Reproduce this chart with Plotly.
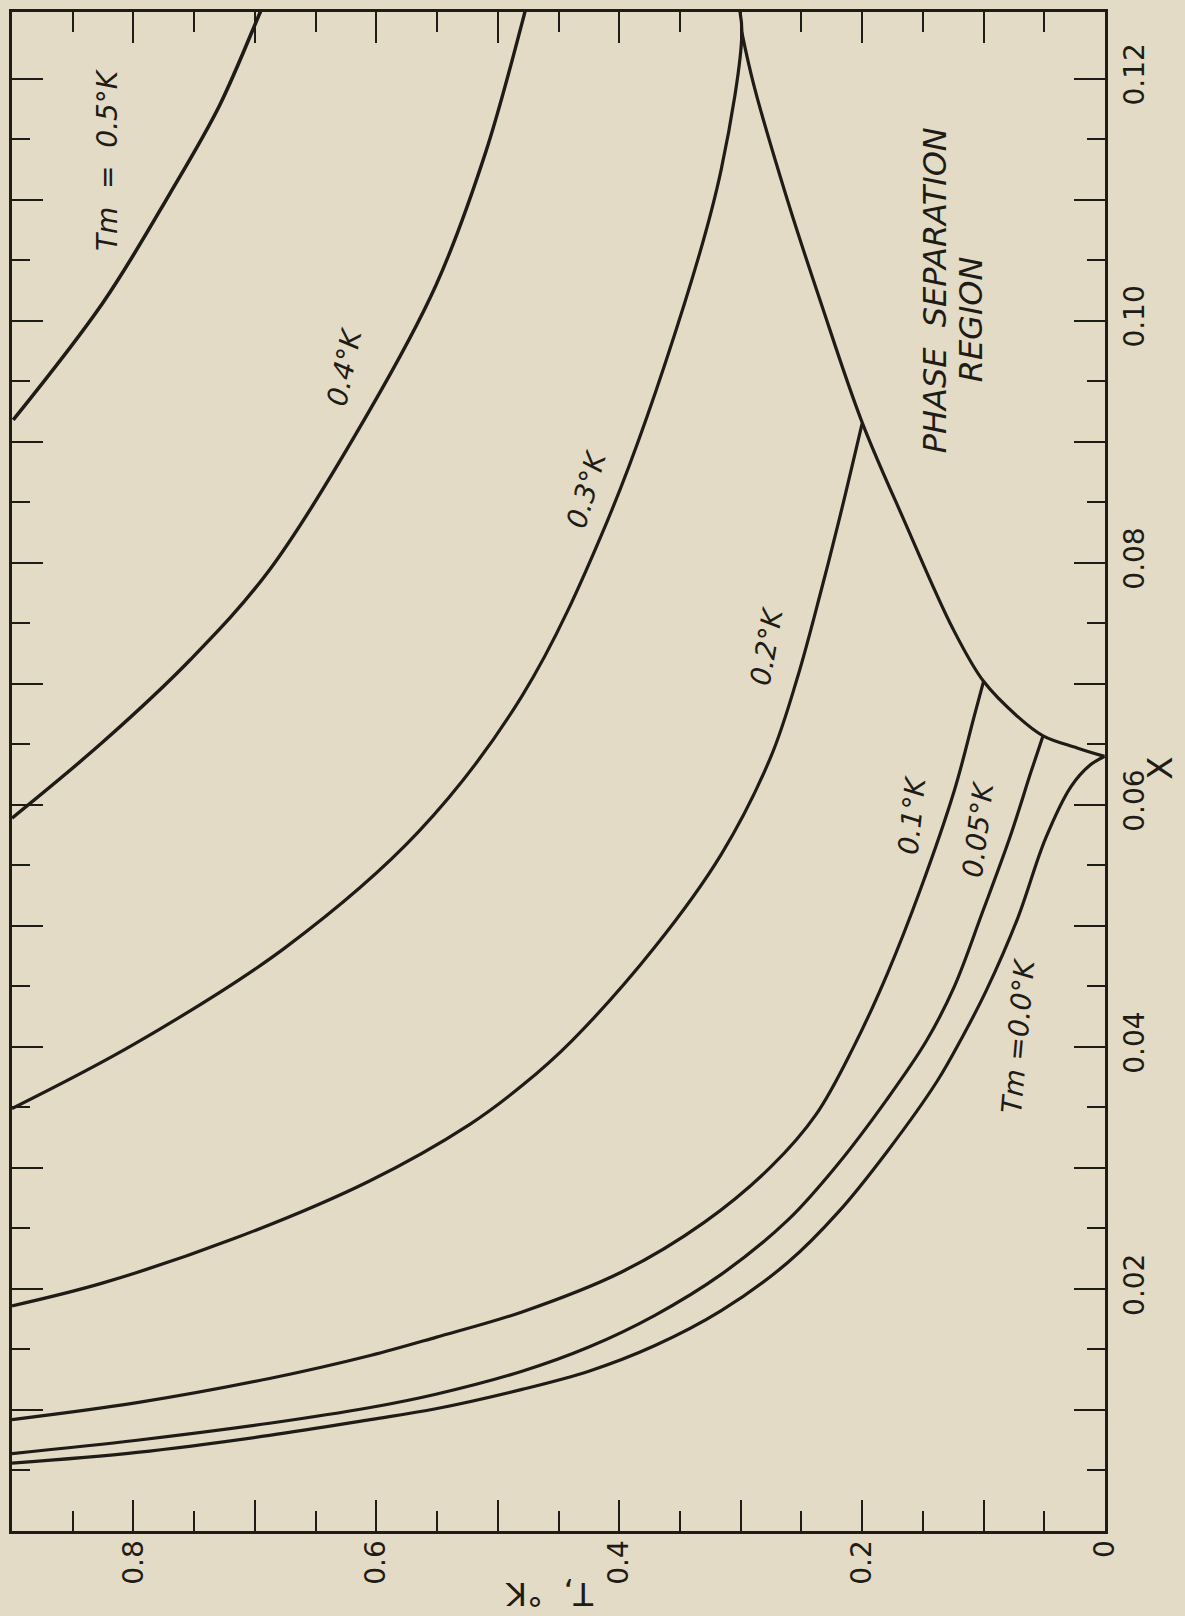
import plotly.graph_objects as go

# ---- data (T in K, X = concentration) ----
tm05_T = [0.899, 0.825, 0.770, 0.729, 0.696, 0.690]
tm05_X = [0.0918, 0.1015, 0.1105, 0.1178, 0.1254, 0.1268]

tm04_T = [0.900, 0.825, 0.753, 0.688, 0.606, 0.551, 0.510, 0.480, 0.476]
tm04_X = [0.0589, 0.0652, 0.0720, 0.0794, 0.0925, 0.1029, 0.1139, 0.1246, 0.1262]

tm03_T = [0.900, 0.798, 0.675, 0.565, 0.480, 0.410, 0.346, 0.316, 0.299, 0.302]
tm03_X = [0.0349, 0.0403, 0.0482, 0.0578, 0.0690, 0.0834, 0.1015, 0.1125, 0.1238, 0.1262]

tm02_T = [0.900, 0.825, 0.716, 0.606, 0.523, 0.480, 0.439, 0.371, 0.316, 0.275,
          0.253, 0.234, 0.220, 0.200]
tm02_X = [0.0186, 0.0205, 0.0242, 0.0289, 0.0336, 0.0368, 0.0405, 0.0482, 0.0559, 0.0640,
          0.0706, 0.0776, 0.0831, 0.0915]

tm01_T = [0.900, 0.797, 0.688, 0.605, 0.551, 0.480, 0.398, 0.330, 0.275, 0.238,
          0.207, 0.179, 0.152, 0.124, 0.108, 0.100]
tm01_X = [0.0092, 0.0106, 0.0126, 0.0145, 0.0160, 0.0181, 0.0214, 0.0255, 0.0301, 0.0344,
          0.0400, 0.0461, 0.0530, 0.0612, 0.0672, 0.0702]

tm005_T = [0.900, 0.797, 0.688, 0.605, 0.551, 0.480, 0.425, 0.371, 0.316, 0.261,
           0.220, 0.180, 0.147, 0.124, 0.101, 0.078, 0.061, 0.051]
tm005_X = [0.0064, 0.0075, 0.0089, 0.0102, 0.0113, 0.0132, 0.0152, 0.0178, 0.0212, 0.0257,
           0.0303, 0.0356, 0.0405, 0.0450, 0.0511, 0.0574, 0.0627, 0.0657]

tm00_T = [0.900, 0.797, 0.688, 0.605, 0.551, 0.480, 0.425, 0.371, 0.316, 0.261,
          0.220, 0.179, 0.138, 0.117, 0.098, 0.072, 0.049, 0.028, 0.012, 0.0004]
tm00_X = [0.0056, 0.0065, 0.0079, 0.0092, 0.0101, 0.0117, 0.0132, 0.0153, 0.0182, 0.0222,
          0.0263, 0.0314, 0.0372, 0.0409, 0.0446, 0.0506, 0.0572, 0.0615, 0.0633, 0.0640]

phase_T = [0.0004, 0.023, 0.051, 0.072, 0.100, 0.125, 0.165, 0.200, 0.234, 0.261, 0.289, 0.299]
phase_X = [0.0640, 0.0647, 0.0657, 0.0673, 0.0702, 0.0745, 0.0834, 0.0916, 0.1015, 0.1098,
           0.1194, 0.1238]

T_major = [0.0, 0.1, 0.2, 0.3, 0.4, 0.5, 0.6, 0.7, 0.8]
T_labels = ["0", "", "0.2", "", "0.4", "", "0.6", "", "0.8"]
T_minor = [0.05, 0.15, 0.25, 0.35, 0.45, 0.55, 0.65, 0.75, 0.85]

X_major = [0.0, 0.01, 0.02, 0.03, 0.04, 0.05, 0.06, 0.07, 0.08, 0.09, 0.10, 0.11, 0.12]
X_labels = ["", "", "0.02", "", "0.04", "", "0.06", "", "0.08", "", "0.10", "", "0.12"]
X_minor = [0.005, 0.015, 0.025, 0.035, 0.045, 0.055, 0.065, 0.075, 0.085, 0.095,
           0.105, 0.115]

INK = "#1f1b17"
PAPER = "#e3dbc6"
FONT = "DejaVu Sans"

# plot area lands at page x 9..1104.5 and page y 10..1531 (body margin removed)
FIG_W, FIG_H = 1185, 1616
ML, MT = 9, 10
MR, MB = 80, 85
PW = FIG_W - ML - MR
PH = FIG_H - MT - MB


def px(page_x):
    return (page_x - ML) / PW


def py(page_y):
    return 1 - (page_y - MT) / PH


curves = [
    (tm05_T, tm05_X, 3.6), (tm04_T, tm04_X, 3.4), (tm03_T, tm03_X, 3.2),
    (tm02_T, tm02_X, 3.2), (tm01_T, tm01_X, 3.2), (tm005_T, tm005_X, 3.2),
    (tm00_T, tm00_X, 3.2), (phase_T, phase_X, 3.2),
]

fig = go.Figure()
for T, X, w in curves:
    fig.add_trace(go.Scatter(
        x=T, y=X, mode="lines",
        line=dict(color=INK, width=w, shape="spline", smoothing=1.0),
        hoverinfo="skip", showlegend=False,
    ))

label_font = dict(family=FONT, size=28, color=INK, style="italic")
labels = [
    ("Tm  =  0.5°K", 0.8214, 0.1133, -90),
    ("0.4°K", 0.626, 0.0962, -78),
    ("0.3°K", 0.4265, 0.0861, -74),
    ("0.2°K", 0.2787, 0.0731, -80),
    ("0.1°K", 0.1588, 0.0592, -84),
    ("0.05°K", 0.1039, 0.0580, -83),
    ("Tm =0.0°K", 0.0710, 0.0409, -85),
]
for txt, tx, ty, ang in labels:
    fig.add_annotation(x=tx, y=ty, xref="x", yref="y", text=txt,
                       xanchor="center", yanchor="middle",
                       showarrow=False, textangle=ang, font=label_font)

region_font = dict(family=FONT, size=32, color=INK, style="italic")
fig.add_annotation(x=0.140, y=0.1025, xref="x", yref="y", text="PHASE  SEPARATION",
                   xanchor="center", yanchor="middle",
                   showarrow=False, textangle=-90, font=region_font)
fig.add_annotation(x=0.1096, y=0.1001, xref="x", yref="y", text="REGION",
                   xanchor="center", yanchor="middle",
                   showarrow=False, textangle=-90, font=region_font)

# axis titles (the whole figure is rotated by 90 degrees)
fig.add_annotation(x=px(1160), y=py(767), xref="paper", yref="paper",
                   text="X", showarrow=False, textangle=-90,
                   xanchor="center", yanchor="middle",
                   font=dict(family=FONT, size=34, color=INK))
fig.add_annotation(x=px(548), y=py(1594), xref="paper", yref="paper",
                   text="T,  °K", showarrow=False, textangle=180,
                   xanchor="center", yanchor="middle",
                   font=dict(family=FONT, size=32, color=INK))

axis_common = dict(
    showgrid=False, zeroline=False, showline=True, linecolor=INK, linewidth=3,
    mirror="allticks", ticks="inside", ticklen=31, tickwidth=2, tickcolor=INK,
    tickangle=-90, tickfont=dict(family=FONT, size=28, color=INK),
)

fig.update_xaxes(
    range=[0.9, 0.0], tickmode="array", tickvals=T_major, ticktext=T_labels,
    ticklabelstandoff=-5,
    minor=dict(tickmode="array", tickvals=T_minor, ticks="inside", ticklen=20,
               tickwidth=2, tickcolor=INK, showgrid=False),
    **axis_common,
)
fig.update_yaxes(
    range=[0.0, 0.1255], side="right", tickmode="array", tickvals=X_major,
    ticktext=X_labels, ticklabelstandoff=2,
    minor=dict(tickmode="array", tickvals=X_minor, ticks="inside", ticklen=18,
               tickwidth=2, tickcolor=INK, showgrid=False),
    **axis_common,
)

fig.update_layout(
    width=FIG_W, height=FIG_H,
    margin=dict(l=ML, r=MR, t=MT, b=MB),
    paper_bgcolor=PAPER, plot_bgcolor=PAPER,
    showlegend=False,
)

fig.write_html("out.html",
               config={"displayModeBar": False},
               post_script="document.body.style.margin='0';"
                           "document.body.style.background='#e3dbc6';")
